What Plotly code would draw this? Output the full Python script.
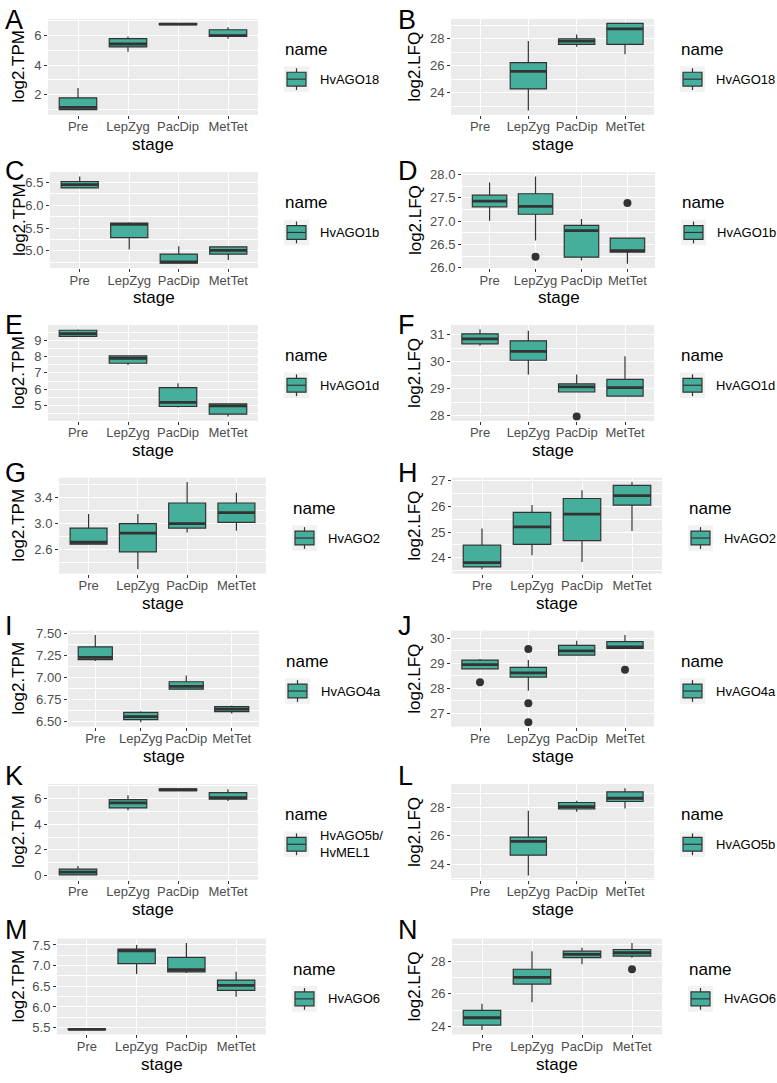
import plotly.graph_objects as go

W, H = 777, 1083
stages = ["Pre", "LepZyg", "PacDip", "MetTet"]

# box stats per stage: lower whisker, q1, median, q3, upper whisker (None = no data)
# A  HvAGO18  log2.TPM
A_low = [0.95, 4.89, 6.70, 5.78]
A_q1 = [1.00, 5.22, 6.72, 5.93]
A_med = [1.15, 5.42, 6.76, 5.98]
A_q3 = [1.80, 5.78, 6.80, 6.38]
A_high = [2.45, 5.93, 6.82, 6.55]
A_out_x, A_out_y = [], []
# B  HvAGO18  log2.LFQ
B_low = [None, 22.70, 27.41, 26.86]
B_q1 = [None, 24.29, 27.59, 27.59]
B_med = [None, 25.58, 27.83, 28.73]
B_q3 = [None, 26.24, 28.00, 29.13]
B_high = [None, 27.83, 28.32, 29.15]
B_out_x, B_out_y = [], []
# C  HvAGO1b  log2.TPM
C_low = [6.38, 5.03, 4.72, 4.80]
C_q1 = [6.38, 5.29, 4.73, 4.93]
C_med = [6.45, 5.58, 4.76, 5.01]
C_q3 = [6.52, 5.61, 4.93, 5.09]
C_high = [6.63, 5.63, 5.10, 5.10]
C_out_x, C_out_y = [], []
# D  HvAGO1b  log2.LFQ
D_low = [27.01, 26.59, 26.16, 26.09]
D_q1 = [27.31, 27.15, 26.23, 26.34]
D_med = [27.43, 27.32, 26.80, 26.37]
D_q3 = [27.56, 27.59, 26.91, 26.64]
D_high = [27.83, 27.96, 27.05, 26.64]
D_out_x, D_out_y = [1, 3], [26.24, 27.39]
# E  HvAGO1d  log2.TPM
E_low = [9.22, 7.49, 4.88, 4.33]
E_q1 = [9.24, 7.59, 4.94, 4.47]
E_med = [9.40, 7.89, 5.20, 4.98]
E_q3 = [9.61, 8.04, 6.10, 5.10]
E_high = [9.67, 8.05, 6.37, 5.12]
E_out_x, E_out_y = [], []
# F  HvAGO1d  log2.LFQ
F_low = [30.60, 29.53, 28.88, 28.73]
F_q1 = [30.67, 30.06, 28.88, 28.73]
F_med = [30.85, 30.39, 29.07, 29.04]
F_q3 = [31.04, 30.78, 29.18, 29.35]
F_high = [31.21, 31.16, 29.53, 30.21]
F_out_x, F_out_y = [2], [27.97]
# G  HvAGO2  log2.TPM
G_low = [2.68, 2.29, 2.86, 2.89]
G_q1 = [2.68, 2.56, 2.93, 3.02]
G_med = [2.71, 2.85, 3.00, 3.17]
G_q3 = [2.93, 3.00, 3.32, 3.32]
G_high = [3.15, 3.15, 3.645, 3.48]
G_out_x, G_out_y = [], []
# H  HvAGO2  log2.LFQ
H_low = [23.55, 24.10, 23.83, 25.04]
H_q1 = [23.64, 24.52, 24.67, 26.05]
H_med = [23.81, 25.20, 25.70, 26.42]
H_q3 = [24.49, 25.77, 26.31, 26.82]
H_high = [25.14, 26.06, 26.63, 26.95]
H_out_x, H_out_y = [], []
# I  HvAGO4a  log2.TPM
I_low = [7.185, 6.49, 6.866, 6.59]
I_q1 = [7.20, 6.52, 6.866, 6.61]
I_med = [7.226, 6.554, 6.897, 6.64]
I_q3 = [7.345, 6.603, 6.95, 6.667]
I_high = [7.48, 6.615, 7.02, 6.68]
I_out_x, I_out_y = [], []
# J  HvAGO4a  log2.LFQ
J_low = [28.78, 27.90, 29.33, 29.60]
J_q1 = [28.78, 28.45, 29.33, 29.60]
J_med = [28.95, 28.62, 29.50, 29.66]
J_q3 = [29.13, 28.84, 29.72, 29.87]
J_high = [29.17, 29.13, 29.90, 30.13]
J_out_x, J_out_y = [0, 1, 1, 1, 3], [28.24, 29.57, 27.40, 26.64, 28.74]
# K  HvAGO5b/HvMEL1  log2.TPM
K_low = [0.00, 5.09, 6.60, 5.82]
K_q1 = [0.05, 5.27, 6.62, 5.95]
K_med = [0.26, 5.66, 6.68, 6.08]
K_q3 = [0.50, 5.92, 6.76, 6.47]
K_high = [0.75, 6.26, 6.80, 6.72]
K_out_x, K_out_y = [], []
# L  HvAGO5b  log2.LFQ
L_low = [None, 23.19, 27.70, 27.93]
L_q1 = [None, 24.63, 27.89, 28.42]
L_med = [None, 25.60, 28.05, 28.65]
L_q3 = [None, 25.90, 28.35, 29.10]
L_high = [None, 27.77, 28.47, 29.35]
L_out_x, L_out_y = [], []
# M  HvAGO6  log2.TPM
M_low = [5.44, 6.80, 6.82, 6.25]
M_q1 = [5.45, 7.05, 6.85, 6.40]
M_med = [5.46, 7.36, 6.90, 6.52]
M_q3 = [5.47, 7.40, 7.20, 6.65]
M_high = [5.48, 7.50, 7.55, 6.85]
M_out_x, M_out_y = [], []
# N  HvAGO6  log2.LFQ
N_low = [23.80, 25.50, 27.80, 28.20]
N_q1 = [24.10, 26.60, 28.20, 28.30]
N_med = [24.55, 27.00, 28.40, 28.50]
N_q3 = [25.00, 27.50, 28.60, 28.70]
N_high = [25.40, 28.60, 28.80, 29.10]
N_out_x, N_out_y = [3], [27.50]

panels = [
    ("A", "HvAGO18", "log2.TPM", A_low, A_q1, A_med, A_q3, A_high, A_out_x, A_out_y, 2, 0, ""),
    ("B", "HvAGO18", "log2.LFQ", B_low, B_q1, B_med, B_q3, B_high, B_out_x, B_out_y, 2, 0, ""),
    ("C", "HvAGO1b", "log2.TPM", C_low, C_q1, C_med, C_q3, C_high, C_out_x, C_out_y, 0.5, 0, ".1f"),
    ("D", "HvAGO1b", "log2.LFQ", D_low, D_q1, D_med, D_q3, D_high, D_out_x, D_out_y, 0.5, 0, ".1f"),
    ("E", "HvAGO1d", "log2.TPM", E_low, E_q1, E_med, E_q3, E_high, E_out_x, E_out_y, 1, 0, ""),
    ("F", "HvAGO1d", "log2.LFQ", F_low, F_q1, F_med, F_q3, F_high, F_out_x, F_out_y, 1, 0, ""),
    ("G", "HvAGO2", "log2.TPM", G_low, G_q1, G_med, G_q3, G_high, G_out_x, G_out_y, 0.4, 0.2, ".1f"),
    ("H", "HvAGO2", "log2.LFQ", H_low, H_q1, H_med, H_q3, H_high, H_out_x, H_out_y, 1, 0, ""),
    ("I", "HvAGO4a", "log2.TPM", I_low, I_q1, I_med, I_q3, I_high, I_out_x, I_out_y, 0.25, 0, ".2f"),
    ("J", "HvAGO4a", "log2.LFQ", J_low, J_q1, J_med, J_q3, J_high, J_out_x, J_out_y, 1, 0, ""),
    ("K", "HvAGO5b/<br>HvMEL1", "log2.TPM", K_low, K_q1, K_med, K_q3, K_high, K_out_x, K_out_y, 2, 0, ""),
    ("L", "HvAGO5b", "log2.LFQ", L_low, L_q1, L_med, L_q3, L_high, L_out_x, L_out_y, 2, 0, ""),
    ("M", "HvAGO6", "log2.TPM", M_low, M_q1, M_med, M_q3, M_high, M_out_x, M_out_y, 0.5, 0, ".1f"),
    ("N", "HvAGO6", "log2.LFQ", N_low, N_q1, N_med, N_q3, N_high, N_out_x, N_out_y, 2, 0, ""),
]

# pixel layout of each panel area
plot_left = [48, 451, 50, 462, 48, 451, 59, 452, 68, 451, 48, 451, 57, 452]
plot_right = [258, 654, 258, 655, 258, 654, 266, 662, 259, 654, 258, 654, 266, 662]
row_top = [14, 169, 323.5, 478, 632.7, 787.7, 944]
letter_mid = [15, 167.5, 324, 473, 628, 780, 935]
plot_h = 97

FILL = "#45AF9C"
DARK = "#333333"
FONT = "Liberation Sans, Arial, sans-serif"


def px(x):
    return x / W


def py(y):
    return 1 - y / H


def label(text, x, y, size, xanchor="center", **kw):
    return dict(text=text, x=px(x), y=py(y), xref="paper", yref="paper",
                xanchor=xanchor, yanchor="middle", showarrow=False,
                font=dict(size=size, color="black", family=FONT), **kw)


fig = go.Figure()
shapes, annotations = [], []
layout = {}

for i, (tag, gene, ylab, low, q1, med, q3, high, ox, oy, dtick, tick0, fmt) in enumerate(panels):
    n = i + 1
    row, col = i // 2, i % 2
    top = row_top[row]
    bot = top + plot_h
    x0, x1 = plot_left[i], plot_right[i]
    xa, ya = ("x", "y") if n == 1 else (f"x{n}", f"y{n}")

    idx = [k for k in range(4) if med[k] is not None]
    fig.add_trace(go.Box(
        x=idx, q1=[q1[k] for k in idx], median=[med[k] for k in idx], q3=[q3[k] for k in idx],
        lowerfence=[low[k] for k in idx], upperfence=[high[k] for k in idx],
        width=0.75, whiskerwidth=0, boxpoints=False, fillcolor=FILL,
        line=dict(color=DARK, width=1.2), xaxis=xa, yaxis=ya, showlegend=False,
        hoverinfo="skip",
    ))
    # thicker median bar as in ggplot
    mx, my = [], []
    for k in idx:
        mx += [k - 0.375, k + 0.375, None]
        my += [med[k], med[k], None]
    fig.add_trace(go.Scatter(x=mx, y=my, mode="lines", line=dict(color=DARK, width=2.8),
                             xaxis=xa, yaxis=ya, showlegend=False, hoverinfo="skip"))
    if ox:
        fig.add_trace(go.Scatter(x=ox, y=oy, mode="markers",
                                 marker=dict(color=DARK, size=8),
                                 xaxis=xa, yaxis=ya, showlegend=False, hoverinfo="skip"))

    vals = [v for v in low + high + oy if v is not None]
    lo, hi = min(vals), max(vals)
    pad = (hi - lo) * 0.05

    axis_common = dict(
        showgrid=True, gridcolor="white", gridwidth=1.3, zeroline=False, showline=False,
        ticks="outside", ticklen=3, tickwidth=1, tickcolor=DARK,
        tickfont=dict(size=13, color="#4D4D4D", family=FONT), fixedrange=True,
    )
    layout["xaxis" if n == 1 else f"xaxis{n}"] = dict(
        axis_common, domain=[px(x0), px(x1)], anchor=ya, range=[-0.6, 3.6],
        tickmode="array", tickvals=[0, 1, 2, 3], ticktext=stages, ticklabelstandoff=-3,
    )
    layout["yaxis" if n == 1 else f"yaxis{n}"] = dict(
        axis_common, domain=[py(bot), py(top)], anchor=xa, range=[lo - pad, hi + pad],
        tickmode="linear", tick0=tick0, dtick=dtick, tickformat=fmt,
        minor=dict(showgrid=True, gridcolor="white", gridwidth=0.6, tick0=0, dtick=dtick / 2, ticks=""),
    )

    annotations.append(label(tag, 3 if col == 0 else 396, letter_mid[row], 27, xanchor="left"))
    annotations.append(label(ylab, 19 if col == 0 else 415, (top + bot) / 2, 17, textangle=-90))
    annotations.append(label("stage", (x0 + x1) / 2, bot + 30, 17))

    # legend: title, key, label
    lx = x1 + 26
    annotations.append(label("name", lx - 1, top + 31, 17, xanchor="left"))
    annotations.append(label(gene, lx + 34, top + 61, 13, xanchor="left", align="left"))
    kx = lx + 12.5
    shapes += [
        dict(type="rect", xref="paper", yref="paper", x0=px(lx), x1=px(lx + 25),
             y0=py(top + 74), y1=py(top + 48), fillcolor="#F2F2F2", line=dict(width=0), layer="below"),
        dict(type="line", xref="paper", yref="paper", x0=px(kx), x1=px(kx),
             y0=py(top + 72), y1=py(top + 50), line=dict(color=DARK, width=1.2)),
        dict(type="rect", xref="paper", yref="paper", x0=px(lx + 3), x1=px(lx + 22),
             y0=py(top + 68), y1=py(top + 54), fillcolor=FILL, line=dict(color=DARK, width=1.2)),
        dict(type="line", xref="paper", yref="paper", x0=px(lx + 3), x1=px(lx + 22),
             y0=py(top + 61), y1=py(top + 61), line=dict(color=DARK, width=1.2)),
    ]

fig.update_layout(
    width=W, height=H, autosize=False,
    margin=dict(l=0, r=0, t=0, b=0),
    paper_bgcolor="white", plot_bgcolor="#EBEBEB",
    font=dict(family=FONT),
    showlegend=False,
    shapes=shapes, annotations=annotations,
    **layout,
)

# the page body has a default 8px margin; drop it so the figure fills the window
fig.write_html("out.html", config={"displayModeBar": False},
               post_script="document.body.style.margin='0';")
